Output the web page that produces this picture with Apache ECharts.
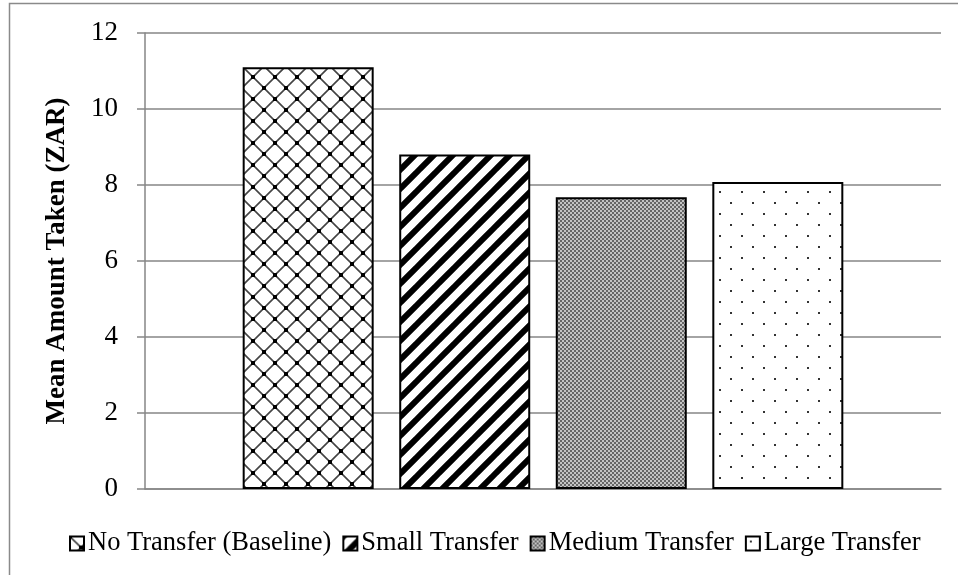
<!DOCTYPE html>
<html>
<head>
<meta charset="utf-8">
<script src="https://cdn.jsdelivr.net/npm/echarts@6/dist/echarts.min.js"></script>
<style>
  html, body { margin: 0; padding: 0; background: #fff; }
  #chart { width: 958px; height: 575px; }
</style>
</head>
<body>
<div id="chart"></div>
<script>
// Mean amount taken per transfer condition
const categories = ['Treatment'];
const seriesNames = ['No Transfer (Baseline)', 'Small Transfer', 'Medium Transfer', 'Large Transfer'];
const meanTaken = [11.1, 8.8, 7.68, 8.08];
const yTicks = { min: 0, max: 12, interval: 2 };

function makeTile(w, h, draw) {
  const c = document.createElement('canvas');
  c.width = w; c.height = h;
  const ctx = c.getContext('2d');
  ctx.fillStyle = '#fff';
  ctx.fillRect(0, 0, w, h);
  draw(ctx, w, h);
  return { image: c, repeat: 'repeat' };
}

// diagonal lattice with dark knots at crossings
const latticeFill = makeTile(22, 22, (ctx, w, h) => {
  ctx.strokeStyle = '#444';
  ctx.lineWidth = 1.6;
  ctx.beginPath();
  ctx.moveTo(-2, -2); ctx.lineTo(w + 2, h + 2);
  ctx.moveTo(w + 2, -2); ctx.lineTo(-2, h + 2);
  ctx.stroke();
  ctx.fillStyle = '#000';
  const knots = [[0, 0], [w, 0], [0, h], [w, h], [w / 2, h / 2]];
  knots.forEach(([x, y]) => ctx.fillRect(x - 2, y - 2, 4, 4));
});

// wide forward-slash stripes
const stripeFill = makeTile(19, 19, (ctx, w, h) => {
  ctx.strokeStyle = '#000';
  ctx.lineWidth = 6;
  ctx.beginPath();
  for (let k = -1; k <= 1; k++) {
    ctx.moveTo(k * w - 2, h + 2);
    ctx.lineTo(k * w + w + 2, -2);
  }
  ctx.stroke();
});

// fine grey checker
const checkerFill = makeTile(4, 4, (ctx) => {
  ctx.fillStyle = '#c4c4c4';
  ctx.fillRect(0, 0, 4, 4);
  ctx.fillStyle = '#666';
  ctx.fillRect(0, 0, 2, 2);
  ctx.fillRect(2, 2, 2, 2);
});

// sparse staggered dots
const dotFill = makeTile(22, 22, (ctx, w, h) => {
  ctx.fillStyle = '#333';
  ctx.fillRect(4, 4, 2, 2);
  ctx.fillRect(15, 15, 2, 2);
});

const fills = [latticeFill, stripeFill, checkerFill, dotFill];

const chart = echarts.init(document.getElementById('chart'));
chart.setOption({
  animation: false,
  backgroundColor: '#fff',
  textStyle: { fontFamily: 'Liberation Serif' },
  graphic: [{
    type: 'rect',
    shape: { x: 9.5, y: 3.5, width: 1200, height: 1200 },
    style: { fill: 'none', stroke: '#8a8a8a', lineWidth: 1.5 },
    silent: true
  }],
  grid: { left: 145, right: 17, top: 33, bottom: 86 },
  legend: {
    left: 64,
    top: 525,
    icon: 'rect',
    itemWidth: 14,
    itemHeight: 14,
    itemGap: 11,
    textStyle: { fontFamily: 'Liberation Serif', fontSize: 26.5, color: '#000', padding: [0, 0, 0, -1] },
    data: seriesNames
  },
  xAxis: {
    type: 'category',
    data: categories,
    axisLine: { lineStyle: { color: '#868686', width: 1.5 } },
    axisTick: { show: false },
    axisLabel: { show: false }
  },
  yAxis: {
    type: 'value',
    min: yTicks.min,
    max: yTicks.max,
    interval: yTicks.interval,
    name: 'Mean Amount Taken (ZAR)',
    nameLocation: 'middle',
    nameGap: 74,
    nameTextStyle: { fontFamily: 'Liberation Serif', fontSize: 27, fontWeight: 'bold', color: '#000' },
    axisLine: { show: true, lineStyle: { color: '#868686', width: 1.5 } },
    axisTick: { show: true, length: 8, lineStyle: { color: '#868686', width: 1.5 } },
    axisLabel: { fontFamily: 'Liberation Serif', fontSize: 27, color: '#000', margin: 27 },
    splitLine: { lineStyle: { color: '#868686', width: 1.5 } }
  },
  series: seriesNames.map((name, i) => ({
    name: name,
    type: 'bar',
    data: [meanTaken[i]],
    barWidth: 131,
    barGap: '19.5%',
    itemStyle: { color: fills[i], borderColor: '#000', borderWidth: 2 }
  }))
});
</script>
</body>
</html>
